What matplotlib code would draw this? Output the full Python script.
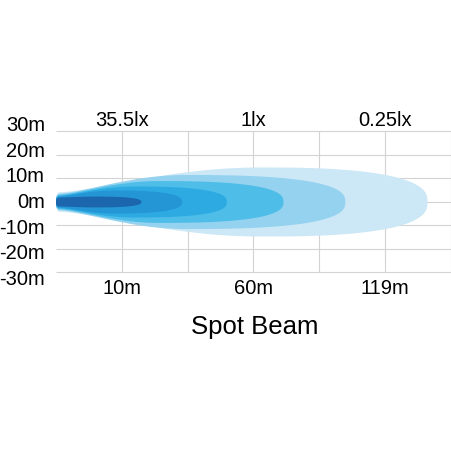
import numpy as np
import matplotlib
matplotlib.use('Agg')
import matplotlib.pyplot as plt
import matplotlib.transforms as mtransforms

plt.rcParams.update({
    'font.family': ['Liberation Sans', 'DejaVu Sans'],
    'font.size': 14.5,
})

# beam grid / labels
x_ticks = [1, 3, 5]
distance_labels = ['10m', '60m', '119m']
lux_labels = ['35.5lx', '1lx', '0.25lx']
y_ticks = [30, 20, 10, 0, -10, -20, -30]
y_labels = ['30m', '20m', '10m', '0m', '-10m', '-20m', '-30m']

# isolux contours, outer to inner (reach in grid units, half width in m)
layer_reach = [5.64, 4.39, 3.45, 2.59, 1.91, 1.29]
layer_halfwidth = [14.7, 11.5, 8.9, 6.6, 4.9, 2.3]
layer_peak = [0.55, 0.45, 0.45, 0.45, 0.45, 0.45]
layer_colors = ['#cce8f6', '#95d2ef', '#4ebee9', '#2eaae2', '#2496d5', '#1b66ad']


def beam_outline(reach, half, peak_frac, n=400):
    # rounded tip, swelling body, superelliptic front
    tip, cap = -0.015, 0.06
    x0 = tip + cap
    peak = peak_frac * reach
    h0 = min(1.5 + 0.18 * half, half)
    xc = np.linspace(tip, x0, 30)
    hc = h0 * np.sqrt(np.clip(1 - ((x0 - xc) / cap) ** 2, 0, 1))
    xl = np.linspace(x0, peak, n)
    hl = h0 + (half - h0) * (1 - ((peak - xl) / (peak - x0)) ** 2) ** 1.5
    xr = np.linspace(peak, reach, n)
    t = (xr - peak) / (reach - peak)
    hr = half * np.clip(1 - t ** 2.6, 0, 1) ** (1 / 2.6)
    return np.concatenate([xc, xl, xr]), np.concatenate([hc, hl, hr])


fig = plt.figure(figsize=(4.52, 4.52), dpi=100)
ax = fig.add_axes([56 / 452, 1 - 273 / 452, 396 / 452, 141 / 452])
ax.set_xlim(0, 396 / 65.8)
ax.set_ylim(-30, 30)

grid_kw = dict(color='#d3d3d3', lw=0.8, clip_on=False, zorder=0)
ax.hlines(y_ticks, 0, 396 / 65.8, **grid_kw)
ax.vlines([1, 2, 3, 4, 5, 6], -30, 30, **grid_kw)

for reach, half, pk, col in zip(layer_reach, layer_halfwidth, layer_peak, layer_colors):
    xs, hs = beam_outline(reach, half, pk)
    ax.fill_between(xs, -hs, hs, color=col, lw=0, zorder=2)

for s in ax.spines.values():
    s.set_visible(False)
ax.set_xticks(x_ticks, distance_labels)
ax.set_yticks([])
ax.tick_params(length=0, pad=4)

top = ax.secondary_xaxis('top')
top.set_xticks(x_ticks, lux_labels)
top.tick_params(length=0, pad=1.5)
for s in top.spines.values():
    s.set_visible(False)

# y labels sit on a slightly wider spacing than the grid
trans = mtransforms.blended_transform_factory(ax.transAxes, ax.transData)
for v, lab in zip(y_ticks, y_labels):
    ax.text(-0.028, v * 1.094, lab, transform=trans, ha='right', va='center')

fig.text(255 / 452, 1 - 327 / 452, 'Spot Beam', ha='center', va='center', fontsize=18.5)

fig.savefig('out.png', dpi=100)
